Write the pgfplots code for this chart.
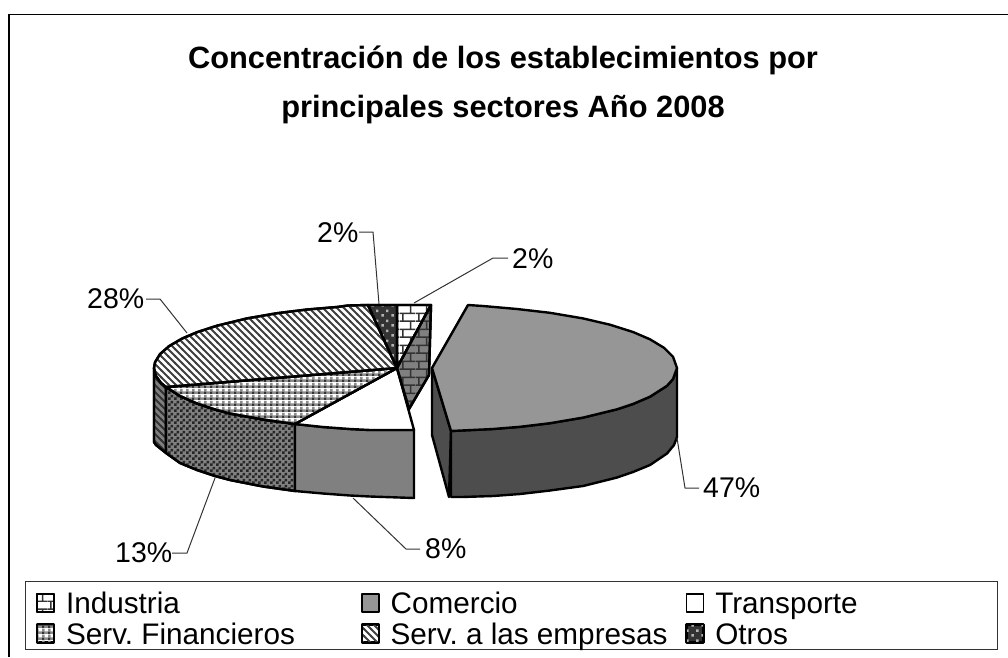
\documentclass[border=0pt]{standalone}
\usepackage{fontspec}
\setmainfont{Liberation Sans}
\usepackage{pgfplots}
\pgfplotsset{compat=1.18}
\usetikzlibrary{patterns}

\definecolor{tope}{HTML}{969696}
\definecolor{lado}{HTML}{4D4D4D}
\definecolor{medio}{HTML}{808080}
\definecolor{oscuro}{HTML}{333333}
\definecolor{guia}{HTML}{333333}

\pgfdeclarepatternformonly{rayas}{\pgfqpoint{-1pt}{-1pt}}{\pgfqpoint{8pt}{8pt}}{\pgfqpoint{7pt}{7pt}}{
  \pgfsetlinewidth{2pt}
  \pgfpathmoveto{\pgfqpoint{-1pt}{8pt}}\pgfpathlineto{\pgfqpoint{8pt}{-1pt}}\pgfusepath{stroke}
}
\pgfdeclarepatternformonly{damero}{\pgfqpoint{0pt}{0pt}}{\pgfqpoint{6pt}{6pt}}{\pgfqpoint{6pt}{6pt}}{
  \pgfpathrectangle{\pgfqpoint{0pt}{0pt}}{\pgfqpoint{3pt}{3pt}}
  \pgfpathrectangle{\pgfqpoint{3pt}{3pt}}{\pgfqpoint{3pt}{3pt}}
  \pgfusepath{fill}
}
\pgfdeclarepatterninherentlycolored{dameroclaro}{\pgfqpoint{0pt}{0pt}}{\pgfqpoint{6pt}{6pt}}{\pgfqpoint{6pt}{6pt}}{
  \pgfsetfillcolor{black!80}
  \pgfpathrectangle{\pgfqpoint{0pt}{0pt}}{\pgfqpoint{3pt}{3pt}}\pgfusepath{fill}
  \pgfsetfillcolor{black!45}
  \pgfpathrectangle{\pgfqpoint{3pt}{0pt}}{\pgfqpoint{3pt}{3pt}}
  \pgfpathrectangle{\pgfqpoint{0pt}{3pt}}{\pgfqpoint{3pt}{3pt}}\pgfusepath{fill}
}
\pgfdeclarepatternformonly{ladrillo}{\pgfqpoint{0pt}{0pt}}{\pgfqpoint{16pt}{16pt}}{\pgfqpoint{16pt}{16pt}}{
  \pgfsetlinewidth{1.5pt}
  \pgfpathmoveto{\pgfqpoint{0pt}{1pt}}\pgfpathlineto{\pgfqpoint{16pt}{1pt}}
  \pgfpathmoveto{\pgfqpoint{0pt}{9pt}}\pgfpathlineto{\pgfqpoint{16pt}{9pt}}
  \pgfpathmoveto{\pgfqpoint{3pt}{1pt}}\pgfpathlineto{\pgfqpoint{3pt}{9pt}}
  \pgfpathmoveto{\pgfqpoint{11pt}{9pt}}\pgfpathlineto{\pgfqpoint{11pt}{17pt}}
  \pgfusepath{stroke}
}
\pgfdeclarepatternformonly{puntos}{\pgfqpoint{0pt}{0pt}}{\pgfqpoint{10pt}{10pt}}{\pgfqpoint{10pt}{10pt}}{
  \pgfpathrectangle{\pgfqpoint{1.5pt}{1.5pt}}{\pgfqpoint{2.6pt}{2.6pt}}
  \pgfpathrectangle{\pgfqpoint{6.5pt}{6.5pt}}{\pgfqpoint{2.6pt}{2.6pt}}
  \pgfusepath{fill}
}
\newcommand\alto{\rule[-12pt]{0pt}{41pt}}
\tikzset{
  etiqueta/.style={anchor=base west, inner sep=0pt, font=\fontsize{28.5}{34}\selectfont},
  titulo/.style={anchor=base, inner sep=0pt, font=\fontsize{30.8}{36}\selectfont\bfseries},
}

\begin{document}
\frenchspacing
\begin{tikzpicture}
\useasboundingbox (0,0) rectangle (1008pt,657pt);
\clip (0,0) rectangle (1008pt,657pt);
\begin{axis}[
  scale only axis,
  width=1008pt, height=657pt,
  xmin=0, xmax=1008, ymin=0, ymax=657,
  y dir=reverse,
  axis lines=none,
  clip=false,
  no markers,
  legend image code/.code={\draw[#1,line width=1.6pt] (0pt,-12pt) rectangle (17pt,6pt);},
  legend columns=3,
  legend cell align=left,
  legend style={
    at={(axis cs:25,581)}, anchor=north west,
    draw=guia, line width=0.9pt,
    inner xsep=11pt, inner ysep=3.3pt,
    font=\fontsize{29.7}{41}\selectfont,
    nodes={inner sep=0pt},
    /tikz/every odd column/.append style={column sep=11pt},
    /tikz/every even column/.append style={column sep=12pt},
    /tikz/row sep=0pt,
  },
  trozo/.style={draw=black, line width=2.4pt, line join=round},
  guia1/.style={draw=guia, line width=1pt, forget plot},
]
% marco exterior
\addplot[draw=black, line width=1.4pt, forget plot] coordinates {(1008,14.5) (9,14.5) (9,657)};

% caras laterales del bloque izquierdo
\addplot[trozo, forget plot, preaction={fill=medio}, pattern=rayas, pattern color=oscuro] coordinates {
  (154,368) (156,376) (161,383) (166,387) (166,453) (161,449) (156,445) (154,442)} --cycle;
\addplot[trozo, forget plot, preaction={fill=medio}, pattern=damero, pattern color=black!85] coordinates {
  (166,387) (180,396) (197,403.5) (215,409.5) (230,413.5) (263,419.5) (295,424) (295,491)
  (263,486.5) (230,480) (215,476) (197,470) (180,463) (166,453)} --cycle;
\addplot[trozo, forget plot, fill=medio] coordinates {
  (295,424) (323,427) (350,429) (370,430) (414,430) (414,498) (370,496.5) (350,495.5) (323,493.5) (295,491)} --cycle;

% caras laterales de Comercio
\addplot[trozo, forget plot, fill=lado] coordinates {(432,368) (451,431) (449,497) (432,435)} --cycle;
\addplot[trozo, forget plot, fill=lado] coordinates {
  (451,431) (493,429) (520,426.8) (550,423.2) (583,417.6) (617,409.3) (633,404) (650,396.7) (667,385.8) (673,379) (677,368)
  (677,437) (674,445) (667,453.5) (650,465) (633,472) (617,477.5) (583,486) (550,490.5) (520,494) (493,496) (462,497) (451,497)} --cycle;

% caras superiores (una por sector, en el orden de la leyenda)
\addplot[trozo, preaction={fill=white}, pattern=ladrillo, pattern color=black!80] coordinates {
  (397,368) (397,305) (431,305)} --cycle;
\addlegendentry{\makebox[283pt][l]{\alto Industria}}
\addplot[trozo, fill=tope] coordinates {
  (451,431) (432,368) (468,305) (483,306) (517,309) (550,312.8) (583,318.4) (610,324.7) (633,332) (650,339.3)
  (664,347.8) (673,356.7) (677,368) (673,379) (667,385.8) (650,396.7) (633,404) (617,409.3) (583,417.6) (550,423.2) (520,426.8) (493,429)} --cycle;
\addlegendentry{\makebox[283pt][l]{\alto Comercio}}
\addplot[trozo, fill=white] coordinates {
  (397,368) (295,424) (323,427) (350,429) (370,430) (414,430)} --cycle;
\addlegendentry{\makebox[271pt][l]{\alto Transporte}}
\addplot[trozo, preaction={fill=white}, pattern=dameroclaro] coordinates {
  (397,368) (166,387) (180,396) (197,403.5) (215,409.5) (230,413.5) (263,419.5) (295,424)} --cycle;
\addlegendentry{\makebox[283pt][l]{\alto Serv. Financieros}}
\addplot[trozo, preaction={fill=white}, pattern=rayas, pattern color=black!75] coordinates {
  (397,368) (368,305) (348,305.5) (337,307) (307,309.5) (277,313.2) (247,318.4) (217,325.7) (197,332.2)
  (182,338.6) (169,346.2) (160,354.1) (155,362.3) (154,368) (156,376) (161,383) (166,387)} --cycle;
\addlegendentry{\makebox[283pt][l]{\alto Serv. a las empresas}}
\addplot[trozo, preaction={fill=oscuro}, pattern=puntos, pattern color=black!30] coordinates {
  (397,368) (368,305) (397,305)} --cycle;
\addlegendentry{\makebox[271pt][l]{\alto Otros}}

% cara lateral de Industria, delante de Transporte
\addplot[trozo, forget plot, preaction={fill=medio}, pattern=ladrillo, pattern color=black!80] coordinates {
  (397,368) (431,305) (429,375) (409,409)} --cycle;

% lineas guia
\addplot[guia1] coordinates {(146,299) (160,299) (187,333)};
\addplot[guia1] coordinates {(359,232) (373,232) (379,304)};
\addplot[guia1] coordinates {(508,258) (493,258) (414,303)};
\addplot[guia1] coordinates {(172,553) (187,553) (215,478)};
\addplot[guia1] coordinates {(420,549) (406,549) (353,498)};
\addplot[guia1] coordinates {(699,488) (685,488) (677,438)};

% titulo y etiquetas
\node[titulo] at (axis cs:503,68) {Concentración de los establecimientos por};
\node[titulo] at (axis cs:503,117) {principales sectores Año 2008};
\node[etiqueta] at (axis cs:87,308) {28\%};
\node[etiqueta] at (axis cs:317,242) {2\%};
\node[etiqueta] at (axis cs:512,268) {2\%};
\node[etiqueta] at (axis cs:115,562) {13\%};
\node[etiqueta] at (axis cs:425,558) {8\%};
\node[etiqueta] at (axis cs:703,497) {47\%};
\end{axis}
\end{tikzpicture}
\end{document}
